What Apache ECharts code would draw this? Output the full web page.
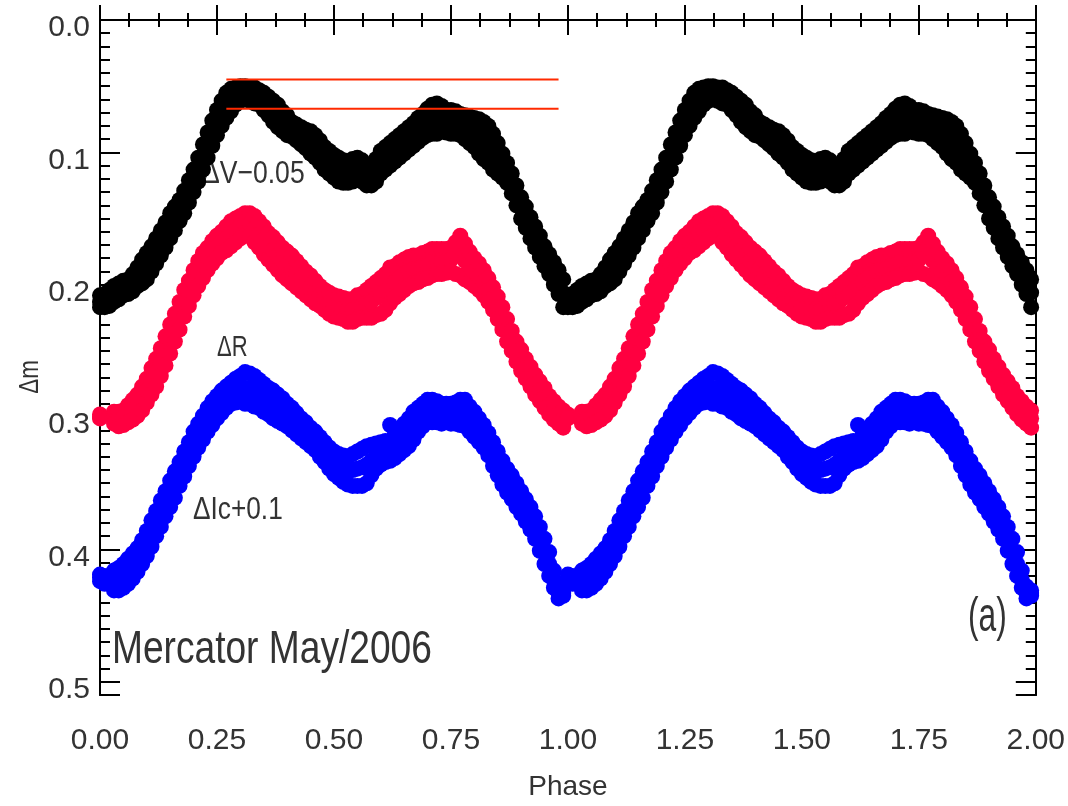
<!DOCTYPE html>
<html>
<head>
<meta charset="utf-8">
<script src="https://cdn.jsdelivr.net/npm/echarts@6/dist/echarts.min.js"></script>
<style>html,body{margin:0;padding:0;background:#fff}#chart{width:1068px;height:806px}</style>
</head>
<body>
<div id="chart"></div>
<script>
// Phase grid of one cycle (the light curve is plotted twice, phase and phase+1)
const phase = [0.00,0.01,0.02,0.03,0.04,0.05,0.06,0.07,0.08,0.09,
0.10,0.11,0.12,0.13,0.14,0.15,0.16,0.17,0.18,0.19,
0.20,0.21,0.22,0.23,0.24,0.25,0.26,0.27,0.28,0.29,
0.30,0.31,0.32,0.33,0.34,0.35,0.36,0.37,0.38,0.39,
0.40,0.41,0.42,0.43,0.44,0.45,0.46,0.47,0.48,0.49,
0.50,0.51,0.52,0.53,0.54,0.55,0.56,0.57,0.58,0.59,
0.60,0.61,0.62,0.63,0.64,0.65,0.66,0.67,0.68,0.69,
0.70,0.71,0.72,0.73,0.74,0.75,0.76,0.77,0.78,0.79,
0.80,0.81,0.82,0.83,0.84,0.85,0.86,0.87,0.88,0.89,
0.90,0.91,0.92,0.93,0.94,0.95,0.96,0.97,0.98,0.99];

// ΔV−0.05 : upper edge, middle and lower edge of the scatter band
const vUpper = [0.208,0.207,0.204,0.201,0.199,0.197,0.196,0.192,0.187,0.181,
0.176,0.171,0.165,0.159,0.153,0.146,0.141,0.136,0.129,0.121,
0.113,0.104,0.094,0.085,0.076,0.068,0.061,0.055,0.052,0.051,
0.050,0.050,0.051,0.051,0.053,0.055,0.058,0.061,0.064,0.069,
0.072,0.077,0.079,0.081,0.083,0.084,0.087,0.091,0.096,0.099,
0.102,0.104,0.106,0.107,0.105,0.104,0.106,0.110,0.113,0.105,
0.099,0.096,0.093,0.090,0.087,0.084,0.081,0.078,0.074,0.071,
0.067,0.064,0.063,0.065,0.068,0.068,0.069,0.071,0.072,0.073,
0.074,0.075,0.077,0.080,0.086,0.093,0.101,0.108,0.116,0.125,
0.134,0.141,0.149,0.156,0.163,0.171,0.177,0.183,0.189,0.196];
const vMiddle = [0.213,0.212,0.210,0.207,0.205,0.203,0.201,0.198,0.194,0.190,
0.186,0.180,0.174,0.168,0.162,0.155,0.150,0.144,0.137,0.130,
0.121,0.113,0.103,0.094,0.085,0.077,0.070,0.064,0.060,0.057,
0.055,0.055,0.056,0.057,0.058,0.061,0.065,0.069,0.072,0.076,
0.079,0.082,0.085,0.087,0.090,0.092,0.095,0.099,0.104,0.107,
0.110,0.113,0.114,0.115,0.113,0.112,0.114,0.117,0.119,0.113,
0.107,0.104,0.101,0.098,0.095,0.092,0.089,0.086,0.083,0.080,
0.077,0.075,0.074,0.074,0.076,0.077,0.077,0.079,0.081,0.083,
0.085,0.088,0.091,0.094,0.099,0.104,0.110,0.115,0.123,0.132,
0.142,0.149,0.157,0.164,0.171,0.178,0.184,0.191,0.198,0.206];
const vLower = [0.217,0.217,0.216,0.213,0.211,0.208,0.207,0.205,0.201,0.199,
0.196,0.190,0.184,0.178,0.172,0.165,0.159,0.152,0.146,0.138,
0.130,0.122,0.113,0.104,0.095,0.087,0.080,0.074,0.069,0.064,
0.061,0.060,0.061,0.063,0.064,0.068,0.072,0.077,0.081,0.084,
0.087,0.088,0.091,0.094,0.097,0.101,0.104,0.108,0.113,0.116,
0.119,0.122,0.123,0.123,0.122,0.120,0.122,0.125,0.125,0.122,
0.116,0.113,0.110,0.107,0.104,0.101,0.098,0.095,0.092,0.089,
0.087,0.086,0.086,0.084,0.085,0.086,0.086,0.087,0.090,0.093,
0.096,0.101,0.105,0.108,0.113,0.116,0.119,0.123,0.131,0.140,
0.150,0.157,0.165,0.172,0.179,0.186,0.192,0.200,0.207,0.217];

// ΔR
const rUpper = [0.298,null,null,0.296,0.296,0.295,0.291,0.287,0.283,0.277,
0.271,0.263,0.256,0.248,0.239,0.230,0.222,0.213,0.204,0.197,
0.189,0.182,0.176,0.172,0.167,0.163,0.160,0.156,0.152,0.150,
0.148,0.146,0.146,0.148,0.152,0.156,0.161,0.164,0.168,0.172,
0.175,0.178,0.182,0.186,0.190,0.193,0.197,0.201,0.204,0.206,
0.208,0.209,0.210,0.211,0.211,0.208,0.207,0.204,0.201,0.198,
0.195,0.192,0.187,0.186,0.183,0.181,0.179,0.178,0.178,0.176,
0.175,0.173,0.173,0.173,0.173,0.172,0.168,0.163,0.169,0.175,
0.180,0.184,0.189,0.195,0.202,0.209,0.217,0.226,0.235,0.243,
0.249,0.256,0.262,0.268,0.273,0.278,0.284,0.288,0.292,0.295];
const rMiddle = [0.300,null,null,0.300,0.301,0.300,0.297,0.294,0.291,0.286,
0.280,0.273,0.266,0.258,0.250,0.241,0.232,0.223,0.214,0.206,
0.198,0.191,0.185,0.180,0.175,0.171,0.168,0.165,0.161,0.159,
0.156,0.154,0.154,0.158,0.162,0.166,0.171,0.174,0.178,0.182,
0.185,0.188,0.192,0.195,0.199,0.202,0.205,0.208,0.211,0.214,
0.216,0.217,0.218,0.219,0.219,0.217,0.216,0.214,0.213,0.210,
0.208,0.205,0.201,0.198,0.195,0.192,0.190,0.188,0.188,0.186,
0.185,0.183,0.182,0.182,0.182,0.181,0.176,0.172,0.182,0.186,
0.190,0.194,0.198,0.204,0.210,0.217,0.225,0.234,0.242,0.250,
0.257,0.263,0.269,0.275,0.280,0.285,0.291,0.295,0.298,0.301];
const rLower = [0.301,null,null,0.305,0.307,0.306,0.304,0.302,0.299,0.295,
0.289,0.283,0.277,0.269,0.261,0.252,0.243,0.234,0.224,0.216,
0.208,0.201,0.195,0.189,0.184,0.180,0.176,0.174,0.171,0.168,
0.165,0.163,0.163,0.168,0.172,0.177,0.181,0.185,0.189,0.193,
0.196,0.199,0.202,0.205,0.208,0.211,0.214,0.216,0.219,0.222,
0.224,0.225,0.226,0.228,0.228,0.226,0.225,0.225,0.225,0.223,
0.222,0.219,0.214,0.210,0.207,0.204,0.201,0.199,0.198,0.196,
0.195,0.193,0.192,0.192,0.191,0.190,0.192,0.193,0.196,0.198,
0.201,0.204,0.208,0.213,0.219,0.226,0.234,0.243,0.250,0.258,
0.265,0.271,0.277,0.283,0.288,0.293,0.298,0.302,0.305,0.308];

// ΔIc+0.1
const iUpper = [0.419,0.420,null,0.416,0.414,0.411,0.407,0.403,0.399,0.393,
0.386,0.378,0.371,0.363,0.356,0.348,0.341,0.334,0.326,0.319,
0.311,0.305,0.299,0.293,0.288,0.284,0.280,0.277,0.274,0.271,
0.269,0.266,0.267,0.269,0.272,0.275,0.278,0.280,0.283,0.286,
0.290,0.293,0.297,0.301,0.304,0.308,0.311,0.315,0.319,0.323,
0.326,0.328,0.329,0.330,0.328,0.326,0.324,0.322,0.321,0.320,
0.319,0.318,0.306,0.313,0.309,0.305,0.301,0.296,0.293,0.290,
0.287,0.287,0.288,0.290,0.290,0.290,0.289,0.287,0.287,0.292,
0.296,0.301,0.306,0.312,0.319,0.326,0.333,0.339,0.344,0.350,
0.356,0.362,0.368,0.375,0.383,0.392,0.402,0.416,0.428,0.431];
const iMiddle = [0.421,0.423,null,0.424,0.423,0.420,0.417,0.413,0.408,0.402,
0.396,0.388,0.381,0.373,0.366,0.358,0.351,0.343,0.336,0.328,
0.321,0.314,0.308,0.302,0.297,0.292,0.288,0.285,0.282,0.280,
0.278,0.278,0.279,0.281,0.283,0.286,0.288,0.291,0.293,0.296,
0.299,0.302,0.305,0.309,0.312,0.315,0.318,0.323,0.327,0.331,
0.335,0.337,0.339,0.341,0.340,0.339,0.338,0.336,0.333,0.330,
0.328,0.326,0.320,0.322,0.319,0.315,0.312,0.307,0.302,0.299,
0.296,0.296,0.296,0.298,0.297,0.298,0.297,0.297,0.297,0.302,
0.306,0.310,0.315,0.321,0.328,0.335,0.342,0.348,0.353,0.359,
0.365,0.371,0.377,0.384,0.392,0.402,0.411,0.423,0.433,0.433];
const iLower = [0.424,0.426,null,0.431,0.431,0.429,0.426,0.422,0.417,0.411,
0.405,0.398,0.390,0.383,0.375,0.368,0.361,0.352,0.345,0.337,
0.330,0.323,0.317,0.311,0.306,0.301,0.297,0.293,0.290,0.289,
0.288,0.290,0.290,0.292,0.293,0.296,0.298,0.301,0.303,0.305,
0.307,0.310,0.313,0.316,0.319,0.322,0.325,0.330,0.334,0.339,
0.343,0.346,0.349,0.351,0.352,0.352,0.352,0.350,0.344,0.339,
0.336,0.334,0.333,0.331,0.328,0.325,0.322,0.317,0.311,0.307,
0.304,0.304,0.304,0.305,0.304,0.305,0.305,0.306,0.307,0.311,
0.315,0.319,0.323,0.329,0.337,0.344,0.351,0.357,0.362,0.368,
0.373,0.379,0.385,0.392,0.401,0.411,0.420,0.429,0.437,0.435];

// Reference levels (red lines)
const refLevels = [0.045, 0.067];
const refPhaseRange = [0.27, 0.98];

// Tick labels
const xTickLabels = ['0.00','0.25','0.50','0.75','1.00','1.25','1.50','1.75','2.00'];
const yTickLabels = ['0.0','0.1','0.2','0.3','0.4','0.5'];

const cycles = [0, 1];
const xTicks = { min: 0, max: 2, interval: 0.25 };
const yTicks = { min: 0, max: 0.51, interval: 0.1, minor: 0.01 };

function band(rows) {
  const pts = [];
  cycles.forEach(c => {
    phase.forEach((p, i) => {
      rows.forEach(r => { if (r[i] != null) pts.push([p + c, r[i]]); });
    });
  });
  return pts;
}

const FONT = '"Liberation Sans", Arial, sans-serif';
const TXT = '#333';

const chart = echarts.init(document.getElementById('chart'), null, { renderer: 'canvas' });

const axisLineStyle = { show: true, lineStyle: { color: '#000', width: 2 } };

function yAx(position, interval, tickLen, showLabel) {
  return {
    type: 'value', position: position, inverse: true,
    min: yTicks.min, max: yTicks.max, interval: interval,
    axisLine: axisLineStyle,
    axisTick: { show: true, inside: true, length: tickLen, lineStyle: { color: '#000', width: 2 } },
    axisLabel: showLabel ? {
      show: true, color: TXT, fontFamily: FONT, fontSize: 30, margin: 10,
      formatter: v => {
        const k = Math.round(v * 10);
        if (Math.abs(v * 10 - k) > 1e-6 || k >= yTickLabels.length) return '';
        return '{s| }\n{v|' + yTickLabels[k] + '}';
      },
      rich: {
        s: { fontSize: 10, lineHeight: 16 },
        v: { fontSize: 30, lineHeight: 30, color: TXT, fontFamily: FONT }
      }
    } : { show: false },
    splitLine: { show: false }
  };
}

function xAx(position, showLabel) {
  return {
    type: 'value', position: position,
    min: xTicks.min, max: xTicks.max, interval: xTicks.interval,
    axisLine: axisLineStyle,
    axisTick: { show: true, inside: true, length: 15, lineStyle: { color: '#000', width: 2 } },
    minorTick: { show: true, splitNumber: 4, length: 7, lineStyle: { color: '#000', width: 2 } },
    axisLabel: showLabel ? {
      show: true, color: TXT, fontFamily: FONT, fontSize: 30, margin: 31,
      formatter: v => xTickLabels[Math.round(v / xTicks.interval)]
    } : { show: false },
    splitLine: { show: false },
    minorSplitLine: { show: false },
    name: showLabel ? 'Phase' : '',
    nameLocation: 'middle', nameGap: 78,
    nameTextStyle: { color: TXT, fontFamily: FONT, fontSize: 28 }
  };
}

function txt(x, y, text, size, sx, rot) {
  return { type: 'text', x: x, y: y, scaleX: sx, rotation: rot || 0,
    style: { text: text, font: size + 'px ' + FONT, fill: TXT,
      align: rot ? 'center' : 'left', verticalAlign: 'middle' } };
}

const option = {
  animation: false,
  backgroundColor: '#fff',
  grid: { left: 100, right: 31, top: 15, bottom: 107, containLabel: false },
  xAxis: [xAx('bottom', true), xAx('top', false)],
  yAxis: [
    yAx('left', yTicks.interval, 20, true),
    yAx('left', yTicks.minor, 10, false),
    yAx('right', yTicks.interval, 20, false),
    yAx('right', yTicks.minor, 10, false)
  ],
  series: [
    { name: 'ΔV−0.05', type: 'scatter', data: band([vUpper, vMiddle, vLower]), symbol: 'circle', symbolSize: 16,
      itemStyle: { color: '#000000', opacity: 1 }, xAxisIndex: 0, yAxisIndex: 0, clip: true },
    { name: 'ΔR', type: 'scatter', data: band([rUpper, rMiddle, rLower]), symbol: 'circle', symbolSize: 16,
      itemStyle: { color: '#ff0040', opacity: 1 }, xAxisIndex: 0, yAxisIndex: 0, clip: true },
    { name: 'ΔIc+0.1', type: 'scatter', data: band([iUpper, iMiddle, iLower]), symbol: 'circle', symbolSize: 16,
      itemStyle: { color: '#0000ff', opacity: 1 }, xAxisIndex: 0, yAxisIndex: 0, clip: true },
    ...refLevels.map(lv => ({
      type: 'line', data: refPhaseRange.map(p => [p, lv]), symbol: 'none',
      lineStyle: { color: '#ff2a00', width: 2 }, xAxisIndex: 0, yAxisIndex: 0, silent: true
    }))
  ],
  graphic: [
    txt(202, 174, 'ΔV−0.05', 32, 0.83),
    txt(217, 348, 'ΔR', 29, 0.76),
    txt(193, 510, 'ΔIc+0.1', 32, 0.82),
    txt(112, 650, 'Mercator May/2006', 47, 0.79),
    txt(968, 618, '(a)', 48, 0.66),
    txt(30, 377, 'Δm', 28, 0.8, Math.PI / 2)
  ]
};

chart.setOption(option);
</script>
</body>
</html>
